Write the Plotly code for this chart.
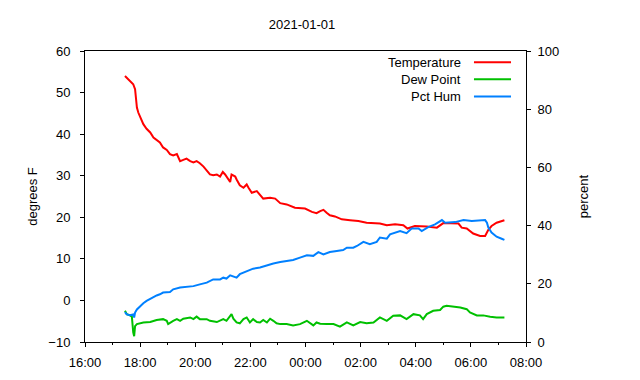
import plotly.graph_objects as go

temp_times = ["17:27","17:34","17:42","17:45","17:49","17:51","17:53","17:56","18:00","18:07","18:14","18:22","18:29","18:36","18:43","18:50","18:58","19:05","19:12","19:20","19:27","19:34","19:41","19:49","19:56","20:03","20:10","20:18","20:25","20:32","20:39","20:47","20:54","21:00","21:05","21:12","21:16","21:19","21:27","21:30","21:37","21:45","21:52","21:56","22:03","22:14","22:21","22:28","22:43","22:54","23:05","23:19","23:37","23:59","00:14","00:24","00:32","00:39","00:46","00:53","01:04","01:19","01:37","01:55","02:13","02:42","02:57","03:15","03:33","03:42","03:58","04:24","04:46","05:00","05:33","05:40","05:51","06:05","06:20","06:31","06:38","06:45","06:56","07:13"]
temp_vals = [54.0,53.2,52.5,52.0,50.8,48.4,46.4,45.2,44.0,42.4,41.3,40.4,39.2,38.6,38.0,36.8,36.2,35.2,34.9,35.2,33.5,33.8,34.1,33.5,33.2,33.5,33.0,32.2,31.1,30.3,30.1,30.3,29.8,30.9,30.3,29.3,28.5,30.3,29.8,29.1,27.7,27.1,27.9,27.1,25.9,26.3,25.3,24.5,24.7,24.5,23.4,23.1,22.3,22.1,21.3,21.0,21.5,21.8,21.1,20.5,20.2,19.5,19.3,19.1,18.7,18.5,18.1,18.3,18.1,17.3,17.9,17.8,17.5,18.6,18.5,17.5,17.3,16.1,15.5,15.5,17.0,17.9,18.7,19.3]

dew_times = ["17:27","17:31","17:38","17:42","17:45","17:47","17:49","17:53","18:07","18:22","18:36","18:50","18:58","19:01","19:12","19:20","19:27","19:34","19:49","19:56","20:03","20:10","20:25","20:32","20:47","21:01","21:08","21:16","21:19","21:23","21:30","21:37","21:45","21:52","21:59","22:06","22:14","22:21","22:28","22:36","22:43","22:50","22:57","23:05","23:19","23:33","23:48","00:03","00:10","00:17","00:24","00:32","00:46","01:01","01:15","01:30","01:44","01:59","02:13","02:28","02:42","02:57","03:11","03:26","03:40","03:55","04:09","04:16","04:24","04:38","04:53","05:00","05:07","05:22","05:37","05:51","05:58","06:13","06:27","06:42","06:56","07:13"]
dew_vals = [-2.5,-3.3,-3.6,-3.9,-7.7,-8.6,-6.2,-5.7,-5.3,-5.2,-4.7,-4.5,-4.9,-5.7,-4.9,-4.5,-4.9,-4.4,-4.1,-4.5,-3.9,-4.5,-4.5,-4.9,-5.2,-4.5,-4.9,-3.7,-3.3,-4.4,-5.3,-5.5,-4.5,-4.1,-5.3,-4.5,-5.2,-5.3,-4.7,-5.3,-4.4,-4.9,-5.5,-5.7,-5.7,-6.0,-5.7,-4.9,-5.5,-6.0,-5.3,-5.6,-5.7,-5.7,-6.3,-5.3,-6.0,-5.2,-5.5,-5.3,-4.1,-4.9,-3.7,-3.6,-4.5,-3.3,-3.6,-4.5,-3.3,-2.5,-2.3,-1.5,-1.3,-1.5,-1.7,-2.1,-2.9,-3.6,-3.6,-3.9,-4.1,-4.1]

hum_times = ["17:27","17:31","17:38","17:45","17:47","17:49","17:53","18:00","18:07","18:14","18:22","18:29","18:36","18:43","18:50","19:05","19:12","19:27","19:41","19:56","20:10","20:25","20:39","20:54","21:01","21:08","21:16","21:30","21:37","21:52","22:06","22:21","22:36","22:50","23:05","23:19","23:33","23:48","00:03","00:17","00:28","00:39","00:53","01:08","01:22","01:30","01:44","01:52","02:06","02:20","02:35","02:42","02:57","03:04","03:19","03:26","03:40","03:51","04:06","04:13","04:27","04:42","04:57","05:04","05:26","05:44","06:02","06:24","06:31","06:35","06:38","06:45","06:56","07:07","07:13"]
hum_vals = [10.3,9.5,9.2,9.5,8.4,10.1,11.2,12.4,13.3,14.1,14.9,15.6,16.0,16.4,17.0,17.2,18.1,18.7,19.0,19.2,19.8,20.4,21.5,21.5,22.1,21.8,22.9,22.1,23.3,24.4,25.2,25.6,26.4,27.0,27.5,27.8,28.2,29.0,29.8,29.6,30.9,30.1,30.9,31.3,31.6,32.4,32.4,33.0,34.4,33.6,34.4,35.9,35.5,37.0,37.6,38.1,37.4,39.0,39.0,38.1,39.5,40.4,41.9,41.0,41.2,41.9,41.6,41.9,41.9,41.0,39.3,37.6,36.2,35.5,35.1]

series_names = ["Temperature", "Dew Point", "Pct Hum"]
series_colors = ["#ff0000", "#00c000", "#0080ff"]
title_text = "2021-01-01"


def to_dt(hhmm):
    h = int(hhmm[:2])
    day = "2021-01-01" if h >= 12 else "2021-01-02"
    return f"{day} {hhmm}"


FONT = "Liberation Sans, Arial, Helvetica, sans-serif"
W, H = 632, 372  # page body adds an 8px offset

fig = go.Figure()
fig.add_trace(go.Scatter(x=[to_dt(t) for t in temp_times], y=temp_vals, mode="lines",
                         line=dict(color=series_colors[0], width=2), name=series_names[0]))
fig.add_trace(go.Scatter(x=[to_dt(t) for t in dew_times], y=dew_vals, mode="lines",
                         line=dict(color=series_colors[1], width=2), name=series_names[1]))
fig.add_trace(go.Scatter(x=[to_dt(t) for t in hum_times], y=hum_vals, mode="lines",
                         line=dict(color=series_colors[2], width=2), name=series_names[2],
                         yaxis="y2"))

# gnuplot-style legend: right-aligned text with sample line to its right
leg_y = [0.961, 0.903, 0.844]
for name, col, yy in zip(series_names, series_colors, leg_y):
    fig.add_annotation(xref="paper", yref="paper", x=0.857, y=yy, text=name,
                       showarrow=False, xanchor="right", yanchor="middle",
                       font=dict(size=13, color="black", family=FONT))
    fig.add_shape(type="line", xref="paper", yref="paper", x0=0.882, x1=0.966,
                  y0=yy, y1=yy, line=dict(color=col, width=2))

fig.update_layout(
    width=W, height=H,
    margin=dict(l=77, r=114, t=43, b=38, pad=0),
    paper_bgcolor="white", plot_bgcolor="white",
    showlegend=False,
    font=dict(family=FONT, size=13, color="black"),
    title=dict(text=title_text, x=(302 - 8) / W, xref="container", xanchor="center",
               y=1 - (24 - 8) / H, yref="container", yanchor="middle",
               font=dict(size=13, family=FONT, color="black")),
    xaxis=dict(type="date", range=["2021-01-01 16:00", "2021-01-02 08:00"],
               tickformat="%H:%M", dtick=7200000, tick0="2021-01-01 16:00",
               ticks="outside", ticklen=4, tickcolor="black",
               minor=dict(dtick=3600000, ticks="outside", ticklen=2, tickcolor="black"),
               showline=True, linecolor="black", linewidth=1, mirror=True,
               showgrid=False, zeroline=False, automargin=False,
               tickfont=dict(size=13), ticklabelstandoff=4),
    yaxis=dict(range=[-10, 60], dtick=10, ticks="outside", ticklen=4, tickcolor="black",
               showline=True, linecolor="black", linewidth=1,
               showgrid=False, zeroline=False, automargin=False,
               tickfont=dict(size=13), ticklabelstandoff=7,
               title=dict(text="degrees F", standoff=7, font=dict(size=13))),
    yaxis2=dict(range=[0, 100], dtick=20, overlaying="y", side="right",
                ticks="outside", ticklen=4, tickcolor="black",
                showline=True, linecolor="black", linewidth=1,
                showgrid=False, zeroline=False, automargin=False,
                tickfont=dict(size=13), ticklabelstandoff=4,
                title=dict(text="percent", standoff=20, font=dict(size=13))),
)

fig.write_html("out.html")
